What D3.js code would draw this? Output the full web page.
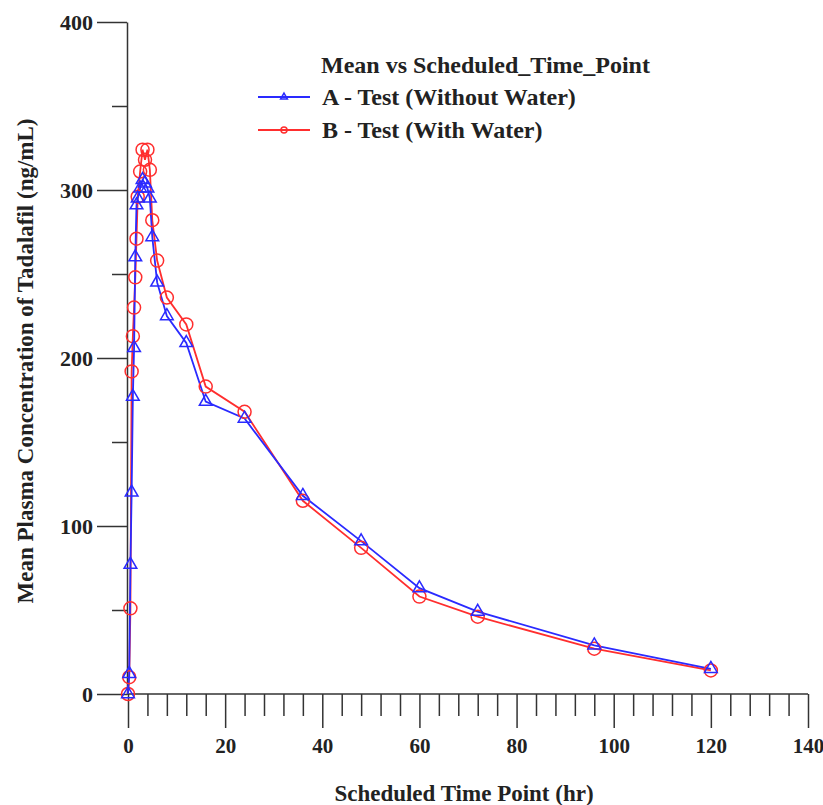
<!DOCTYPE html>
<html>
<head>
<meta charset="utf-8">
<script src="https://cdn.jsdelivr.net/npm/d3@7"></script>
<style>
  body { margin: 0; background: #fff; }
  text { font-family: "Liberation Serif", "Times New Roman", serif; font-weight: bold; fill: #222; }
</style>
</head>
<body>
<svg class="pk-chart" width="823" height="805"></svg>
<script>
// scheduled time points (hr)
const timePoints = [0, 0.25, 0.5, 0.75, 1, 1.25, 1.5, 1.75, 2, 2.5, 3, 3.5, 4, 4.5, 5, 6, 8, 12, 16, 24, 36, 48, 60, 72, 96, 120];
// A - Test (Without Water)
const meanA = [0, 12, 77, 120, 177, 206, 260, 291, 295, 301, 306, 304, 301, 295, 272, 245, 225, 209, 174, 164, 118, 91, 63, 49, 29, 15];
// B - Test (With Water)
const meanB = [0, 10, 51, 192, 213, 230, 248, 271, 296, 311, 324, 318, 324, 312, 282, 258, 236, 220, 183, 168, 115, 87, 58, 46, 27, 14];

const xTicks = [0, 20, 40, 60, 80, 100, 120, 140];
const yTicks = [0, 100, 200, 300, 400];
const seriesNames = ["A - Test (Without Water)", "B - Test (With Water)"];
const legendTitle = "Mean vs Scheduled_Time_Point";

function drawChart() {
    const svg = d3.select("svg.pk-chart");
    const margin = {top: 22, right: 15, bottom: 111, left: 127};
    const width = +svg.attr("width") - margin.left - margin.right;
    const height = +svg.attr("height") - margin.top - margin.bottom;
    const g = svg.append("g").attr("transform", `translate(${margin.left}, ${margin.top})`);

    const x = d3.scaleLinear().domain([0, 140]).range([1, width]);
    const y = d3.scaleLinear().domain([0, 400]).range([height, 0]);

    // minor ticks
    g.append("g")
        .attr("transform", `translate(0, ${height})`)
        .call(d3.axisBottom(x).tickValues(d3.range(0, 141, 4).filter(d => d % 20 !== 0)).tickSize(22).tickFormat(""))
        .call(a => a.select(".domain").remove())
        .call(a => a.selectAll("line").attr("stroke", "#333").attr("stroke-width", 1.5));
    g.append("g")
        .call(d3.axisLeft(y).tickValues([50, 150, 250, 350]).tickSize(15).tickFormat(""))
        .call(a => a.select(".domain").remove())
        .call(a => a.selectAll("line").attr("stroke", "#333").attr("stroke-width", 1.5));

    // major axes
    g.append("g")
        .attr("class", "axis axis--x")
        .attr("transform", `translate(0, ${height})`)
        .call(d3.axisBottom(x).tickValues(xTicks).tickSize(34).tickSizeOuter(0).tickPadding(10))
        .call(a => a.select(".domain").attr("stroke", "#333").attr("stroke-width", 1.5).attr("d", `M0,0H${width}`))
        .call(a => a.selectAll("line").attr("stroke", "#333").attr("stroke-width", 1.5))
        .call(a => a.selectAll("text").attr("font-size", 21).attr("fill", "#222"));

    g.append("g")
        .attr("class", "axis axis--y")
        .call(d3.axisLeft(y).tickValues(yTicks).tickSize(30).tickSizeOuter(0).tickPadding(4))
        .call(a => a.select(".domain").attr("stroke", "#333").attr("stroke-width", 1.5))
        .call(a => a.selectAll("line").attr("stroke", "#333").attr("stroke-width", 1.5))
        .call(a => a.selectAll("text").attr("font-size", 22).attr("fill", "#222"));

    // axis titles
    svg.append("text")
        .attr("x", 464).attr("y", 801)
        .attr("text-anchor", "middle")
        .attr("font-size", 23)
        .text("Scheduled Time Point (hr)");
    svg.append("text")
        .attr("transform", "translate(33, 361) rotate(-90)")
        .attr("text-anchor", "middle")
        .attr("font-size", 23)
        .text("Mean Plasma Concentration of Tadalafil (ng/mL)");

    const dataA = timePoints.map((t, i) => ({t: t, v: meanA[i]}));
    const dataB = timePoints.map((t, i) => ({t: t, v: meanB[i]}));

    const line = d3.line()
        .x(d => x(d.t))
        .y(d => y(d.v));

    const blue = "#2a2aff";
    const red = "#ff2e2e";
    const tri = d3.symbol().type(d3.symbolTriangle).size(70);

    g.append("path").datum(dataB)
        .attr("fill", "none").attr("stroke", red).attr("stroke-width", 1.8)
        .attr("d", line);
    g.append("path").datum(dataA)
        .attr("fill", "none").attr("stroke", blue).attr("stroke-width", 1.8)
        .attr("d", line);

    g.selectAll("circle.ptB").data(dataB).enter().append("circle")
        .attr("class", "ptB")
        .attr("cx", d => x(d.t)).attr("cy", d => y(d.v)).attr("r", 6.5)
        .attr("fill", "none").attr("stroke", red).attr("stroke-width", 1.5);
    g.selectAll("path.ptA").data(dataA).enter().append("path")
        .attr("class", "ptA")
        .attr("transform", d => `translate(${x(d.t)}, ${y(d.v)})`)
        .attr("d", tri)
        .attr("fill", "none").attr("stroke", blue).attr("stroke-width", 1.5);

    // legend
    const lg = svg.append("g").attr("transform", "translate(258, 0)");
    lg.append("text").attr("x", 63).attr("y", 73).attr("font-size", 24).text(legendTitle);
    const colors = [blue, red];
    seriesNames.forEach((name, i) => {
        const ly = 97 + i * 33;
        lg.append("line").attr("x1", 0).attr("x2", 52).attr("y1", ly).attr("y2", ly)
            .attr("stroke", colors[i]).attr("stroke-width", 1.8);
        if (i === 0) {
            lg.append("path").attr("transform", `translate(26, ${ly})`)
                .attr("d", d3.symbol().type(d3.symbolTriangle).size(20))
                .attr("fill", "none").attr("stroke", blue).attr("stroke-width", 1.5);
        } else {
            lg.append("circle").attr("cx", 26).attr("cy", ly).attr("r", 3)
                .attr("fill", "none").attr("stroke", red).attr("stroke-width", 1.5);
        }
        lg.append("text").attr("x", 64).attr("y", ly + 8).attr("font-size", 24).text(name);
    });
}

drawChart();
</script>
</body>
</html>
